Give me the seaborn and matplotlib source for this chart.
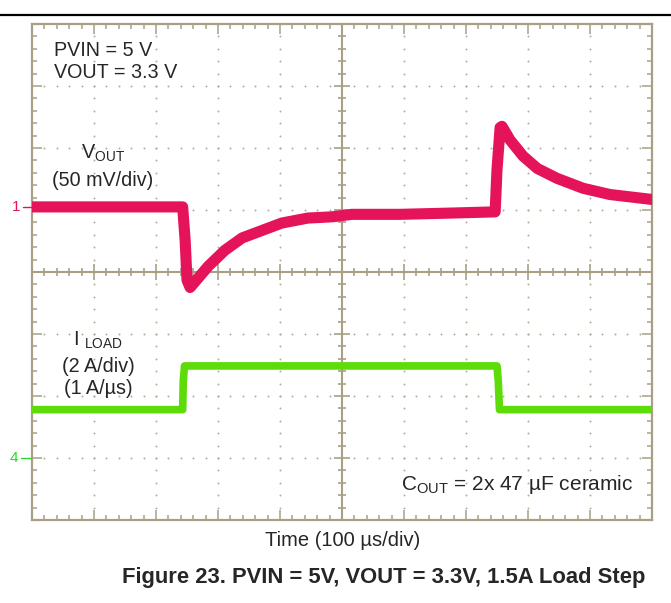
import numpy as np
import pandas as pd
import matplotlib
matplotlib.use("Agg")
import matplotlib.pyplot as plt
import seaborn as sns
from matplotlib.collections import LineCollection
from matplotlib.lines import Line2D

# ---------------- data ----------------
# VOUT deviation (mV, AC coupled, 50 mV/div) vs time (us, 100 us/div)
vout_time_us = [0, 243, 247, 250, 255, 284, 311, 339, 371, 403, 445, 484, 516,
                594, 674, 747, 750, 755, 758, 771, 792, 815, 847, 889, 932, 1000]
vout_dev_mv = [0, 0, -27, -59, -65, -48, -35, -25, -19, -13, -9, -8, -6,
               -6, -5, -4, 30, 64, 65, 54, 41, 31, 23, 15, 10, 6]

# Load current (A, 2 A/div) vs time (us)
iload_time_us = [0, 243, 244, 246, 750, 752, 754, 1000]
iload_a = [1.56, 1.56, 2.5, 2.97, 2.97, 2.5, 1.56, 1.56]

# scope settings
TIME_PER_DIV = 100      # us/div
CH1_SCALE = 50          # mV/div
CH4_SCALE = 2           # A/div
CH1_OFFSET = 1.05       # div (channel 1 marker)
CH4_OFFSET = -3.0       # div (channel 4 marker)

RED = "#E5135A"
GREEN = "#5EDC0A"
GRID = "#A89F86"

sns.set_theme(style="white")
plt.rcParams["font.family"] = ["Liberation Sans", "DejaVu Sans"]
plt.rcParams["mathtext.fontset"] = "custom"
plt.rcParams["mathtext.rm"] = "Liberation Sans"

W, H = 671, 603
fig = plt.figure(figsize=(W / 100, H / 100), dpi=100)


def fx(x):
    return x / W


def fy(y):
    return 1 - y / H


ax = fig.add_axes([fx(32), fy(520), (652 - 32) / W, (520 - 24) / H])
ax.set_xlim(0, 10 * TIME_PER_DIV)
ax.set_ylim(-4, 4)
ax.set_facecolor("white")

# dotted graticule
dx, dy = [], []
for xm in np.arange(TIME_PER_DIV, 10 * TIME_PER_DIV, TIME_PER_DIV):
    if xm == 5 * TIME_PER_DIV:
        continue
    for yy in np.arange(-4, 4.001, 0.2):
        dx.append(xm); dy.append(yy)
for ym in range(-3, 4):
    if ym == 0:
        continue
    for xx in np.arange(0, 10 * TIME_PER_DIV + 1, TIME_PER_DIV / 5):
        dx.append(xx); dy.append(ym)
ax.scatter(dx, dy, s=2.0, color="#B5AD95", linewidths=0, zorder=1)

# center cross-hair with ticks
ax.axvline(5 * TIME_PER_DIV, color=GRID, lw=1.5, zorder=1)
ax.axhline(0, color=GRID, lw=1.5, zorder=1)
segs = []
px_t = TIME_PER_DIV / 62.0   # data units per pixel in x
px_v = 1 / 62.0              # in y
for xx in np.arange(TIME_PER_DIV / 5, 10 * TIME_PER_DIV, TIME_PER_DIV / 5):
    L = 8 if abs(xx % TIME_PER_DIV) < 1e-6 else 4
    segs.append([(xx, -L * px_v), (xx, L * px_v)])
for yy in np.arange(-3.8, 4, 0.2):
    L = 8 if abs(yy - round(yy)) < 1e-6 else 4
    segs.append([(500 - L * px_t, yy), (500 + L * px_t, yy)])
ax.add_collection(LineCollection(segs, colors=GRID, linewidths=1.2, zorder=1))

# traces
df_v = pd.DataFrame({"t": vout_time_us,
                     "div": CH1_OFFSET + np.array(vout_dev_mv) / CH1_SCALE})
df_i = pd.DataFrame({"t": iload_time_us,
                     "div": CH4_OFFSET + np.array(iload_a) / CH4_SCALE})
sns.lineplot(data=df_v, x="t", y="div", ax=ax, color=RED, lw=8,
             sort=False, estimator=None, zorder=3)
sns.lineplot(data=df_i, x="t", y="div", ax=ax, color=GREEN, lw=5.5,
             sort=False, estimator=None, zorder=3)

ax.set_xlim(0, 10 * TIME_PER_DIV)
ax.set_ylim(-4, 4)
ax.set_xlabel("")
ax.set_ylabel("")
ax.set_xticks(np.arange(0, 1001, TIME_PER_DIV))
ax.set_xticks(np.arange(0, 1001, TIME_PER_DIV / 5), minor=True)
ax.set_yticks(np.arange(-4, 4.01, 1))
ax.set_yticks(np.arange(-4, 4.01, 0.2), minor=True)
ax.tick_params(which="both", direction="in", top=True, right=True,
               bottom=True, left=True, color=GRID, width=1.1,
               labelbottom=False, labelleft=False)
ax.tick_params(which="major", length=7)
ax.tick_params(which="minor", length=3.5)
for s in ax.spines.values():
    s.set_color(GRID)
    s.set_linewidth(1.6)
    s.set_visible(True)

# annotations inside the screen
fs = 14.2
fig.text(fx(54), fy(50), "PVIN = 5 V", fontsize=fs, va="center", ha="left")
fig.text(fx(54), fy(73), "VOUT = 3.3 V", fontsize=fs, va="center", ha="left")
fig.text(fx(103), fy(153), r"V$_{\mathrm{OUT}}$", fontsize=fs, va="center", ha="center")
fig.text(fx(103), fy(180), "(50 mV/div)", fontsize=fs, va="center", ha="center")
fig.text(fx(98), fy(340), r"I $_{\mathrm{LOAD}}$", fontsize=fs, va="center", ha="center")
fig.text(fx(98), fy(366), "(2 A/div)", fontsize=fs, va="center", ha="center")
fig.text(fx(98), fy(388), "(1 A/µs)", fontsize=fs, va="center", ha="center")
fig.text(fx(401), fy(484), r"C$_{\mathrm{OUT}}$ = 2x 47 µF ceramic", fontsize=15,
         va="center", ha="left")

# channel markers
fig.text(fx(16), fy(207), "1", fontsize=11, color=RED, va="center", ha="center")
fig.add_artist(Line2D([fx(23), fx(31)], [fy(207), fy(207)], color=RED, lw=1))
fig.text(fx(14), fy(458), "4", fontsize=11, color="#22DD22", va="center", ha="center")
fig.add_artist(Line2D([fx(21), fx(31)], [fy(458), fy(458)], color="#22DD22", lw=1))

# axis label and caption
fig.text(fx(343), fy(541), "Time (100 µs/div)", fontsize=14.5, va="center", ha="center")
fig.text(fx(384), fy(577), "Figure 23. PVIN = 5V, VOUT = 3.3V, 1.5A Load Step",
         fontsize=15.8, fontweight="bold", va="center", ha="center")

# top rule
fig.add_artist(Line2D([0, 1], [fy(15), fy(15)], color="black", lw=1.6))

fig.savefig("out.png", dpi=100)
